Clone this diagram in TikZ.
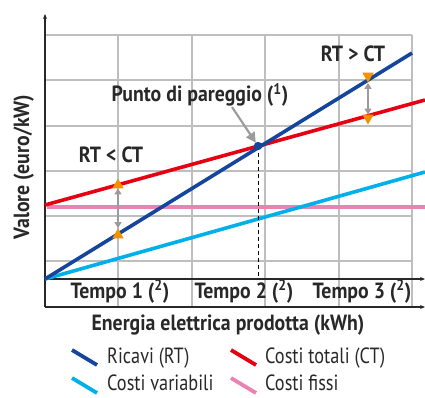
\documentclass[tikz,border=0pt]{standalone}
\usepackage{fontspec}
\newfontfamily\lblfont{PT Sans}[FakeStretch=0.9]
\newfontfamily\legfont{PT Sans}[FakeStretch=0.83]
\usetikzlibrary{arrows.meta,shapes.geometric}
\definecolor{rtblue}{RGB}{22,70,155}
\definecolor{ctred}{RGB}{230,0,18}
\definecolor{cvcyan}{RGB}{0,176,234}
\definecolor{cfpink}{RGB}{234,130,180}
\definecolor{tri}{RGB}{243,146,0}
\definecolor{gridc}{RGB}{190,190,190}
\definecolor{arrc}{RGB}{155,155,155}
\definecolor{txt}{RGB}{40,40,40}
\tikzset{
  gridline/.style={draw=gridc, line width=1.2pt},
  axisline/.style={draw=txt, line width=1.4pt, -{Stealth[length=5pt,width=4pt]}},
  curve/.style={line width=3.6pt},
  boldlbl/.style={font=\lblfont\bfseries\fontsize{22}{22}\selectfont, text=txt, inner sep=0pt, anchor=base},
  leglbl/.style={font=\legfont\fontsize{22}{22}\selectfont, text=txt, inner sep=0pt, anchor=base west},
  trimark/.style={fill=tri, draw=none, regular polygon, regular polygon sides=3, minimum size=13pt, inner sep=0pt},
  gapar/.style={draw=arrc, line width=1.8pt, {Triangle[length=6pt,width=7pt]}-{Triangle[length=6pt,width=7pt]}},
  pointer/.style={draw=arrc, line width=2.2pt, -{Triangle[length=10pt,width=10pt]}, shorten >=4pt},
  legline/.style={line width=3.8pt}
}
\begin{document}
\begin{tikzpicture}[x=1pt,y=-1pt]
\useasboundingbox (0,0) rectangle (425,398);
% grid
\foreach \yy in {35,80,126,171,216,261}
  \draw[gridline] (45,\yy) -- (412,\yy);
\foreach \xx in {118,192,265,339,412}
  \draw[gridline] (\xx,35) -- (\xx,307);
% axes
\coordinate (O) at (45,279);
\coordinate (ytop) at (45,14);
\coordinate (ybot) at (45,307);
\coordinate (xend) at (425,279);
\coordinate (bend) at (425,307);
\draw[axisline] (ybot) -- (ytop);
\draw[axisline] (O) -- (xend);
\draw[axisline] (ybot) -- (bend);
% curves
\coordinate (rtend) at (412,53);
\coordinate (ctstart) at (45,205);
\coordinate (ctend) at (425,100);
\coordinate (cfstart) at (47,207);
\coordinate (cfend) at (425,207);
\coordinate (cvend) at (425,172);
\draw[curve, cfpink] (cfstart) -- (cfend);
\draw[curve, cvcyan] (O) -- (cvend);
\draw[curve, ctred] (ctstart) -- (ctend);
\draw[curve, rtblue] (O) -- (rtend);
% break-even
\coordinate (be) at (258,146);
\coordinate (befoot) at (258,279);
\draw[black, line width=1pt, dash pattern=on 4pt off 3pt] (be) -- (befoot);
\fill[rtblue] (be) circle (4.2pt);
% triangles
\node[trimark] (t1) at (118,185) {};
\node[trimark] (t2) at (118,235) {};
\node[trimark, shape border rotate=180] (t3) at (368,76) {};
\node[trimark, shape border rotate=180] (t4) at (368,118) {};
\draw[gapar] (t1) -- (t2);
\draw[gapar] (t3) -- (t4);
% labels
\node[boldlbl] (pp) at (200,102) {Punto di pareggio (\textsuperscript{1})};
\coordinate (ppfoot) at (232,107);
\draw[pointer] (ppfoot) -- (be);
\node[boldlbl] (lt) at (111,163) {RT < CT};
\node[boldlbl] (gt) at (353,62) {RT > CT};
\node[boldlbl] (t1l) at (120,298) {Tempo 1 (\textsuperscript{2})};
\node[boldlbl] (t2l) at (244,298) {Tempo 2 (\textsuperscript{2})};
\node[boldlbl] (t3l) at (362,298) {Tempo 3 (\textsuperscript{2})};
\node[boldlbl] (xl) at (228,330) {Energia elettrica prodotta (kWh)};
\node[boldlbl, rotate=90] (yl) at (29,167) {Valore (euro/kW)};
% legend
\draw[legline, rtblue] (72,350) -- (97,365);
\node[leglbl] (l1) at (107,363) {Ricavi (RT)};
\draw[legline, ctred] (231,350) -- (256,365);
\node[leglbl] (l2) at (265,363) {Costi totali (CT)};
\draw[legline, cvcyan] (72,378) -- (97,393);
\node[leglbl] (l3) at (107,390) {Costi variabili};
\draw[legline, cfpink] (231,378) -- (256,393);
\node[leglbl] (l4) at (265,390) {Costi fissi};
\end{tikzpicture}
\end{document}
